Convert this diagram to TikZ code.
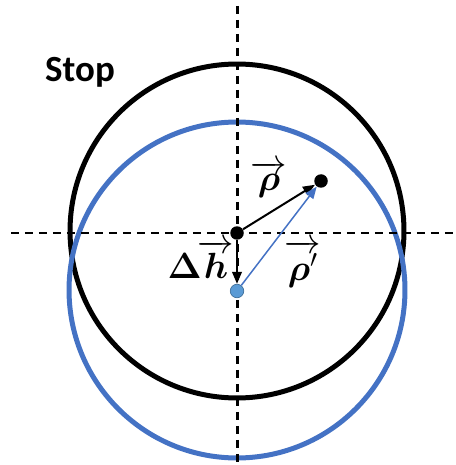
\documentclass[tikz,border=0pt]{standalone}
\usepackage{amsmath,bm}
\usepackage{fontspec}
\setsansfont{Carlito}
\usetikzlibrary{arrows.meta}
\definecolor{stopblue}{RGB}{68,114,196}
\definecolor{dotblue}{RGB}{91,155,213}
\definecolor{dotedge}{RGB}{65,113,156}

\begin{document}
\begin{tikzpicture}[x=0.02cm, y=-0.02cm, font=\fontsize{21}{25}\selectfont,
  >={Triangle[length=2.4mm, width=1.9mm]},
  axis/.style={line width=0.6mm, dash pattern=on 1.7mm off 1.1mm},
  pupil/.style={line width=1mm},
  dot/.style={circle, fill=black, minimum size=2.7mm, inner sep=0},
  bdot/.style={circle, fill=dotblue, draw=dotedge, thin, minimum size=2.7mm, inner sep=0},
  vec/.style={->, line width=0.4mm},
  lab/.style={inner sep=0}]
\useasboundingbox (0,0) rectangle (455,465);
% stop and shifted stop
\draw[pupil] (237,231) circle[radius=3.34cm];
\draw[pupil, stopblue] (237,290) circle[radius=3.36cm];
\node[lab, font=\fontsize{21}{25}\selectfont\sffamily\bfseries] (stop) at (80,72) {Stop};
% axes
\coordinate (ytop) at (237,6);
\coordinate (ybot) at (237,465);
\coordinate (xleft) at (11,233);
\coordinate (xright) at (455,233);
\draw[axis] (ytop) -- (ybot);
\draw[axis] (xleft) -- (xright);
% points
\node[dot]  (c) at (237,233) {};
\node[dot]  (p) at (321,181) {};
\node[bdot] (b) at (237,291) {};
% vectors
\draw[vec] (c) -- (p);
\draw[vec] (c) -- (b);
\draw[vec, stopblue, line width=0.3mm] (b) -- (p);
\node[lab] (rho)  at (269,179) {$\overrightarrow{\bm{\rho}}$};
\node[lab] (dh)   at (201,259) {$\bm{\Delta}\mkern-2mu\overrightarrow{\bm{h}}$};
\node[lab] (rhop) at (303,264) {$\overrightarrow{\bm{\rho}'}$};
\end{tikzpicture}
\end{document}
